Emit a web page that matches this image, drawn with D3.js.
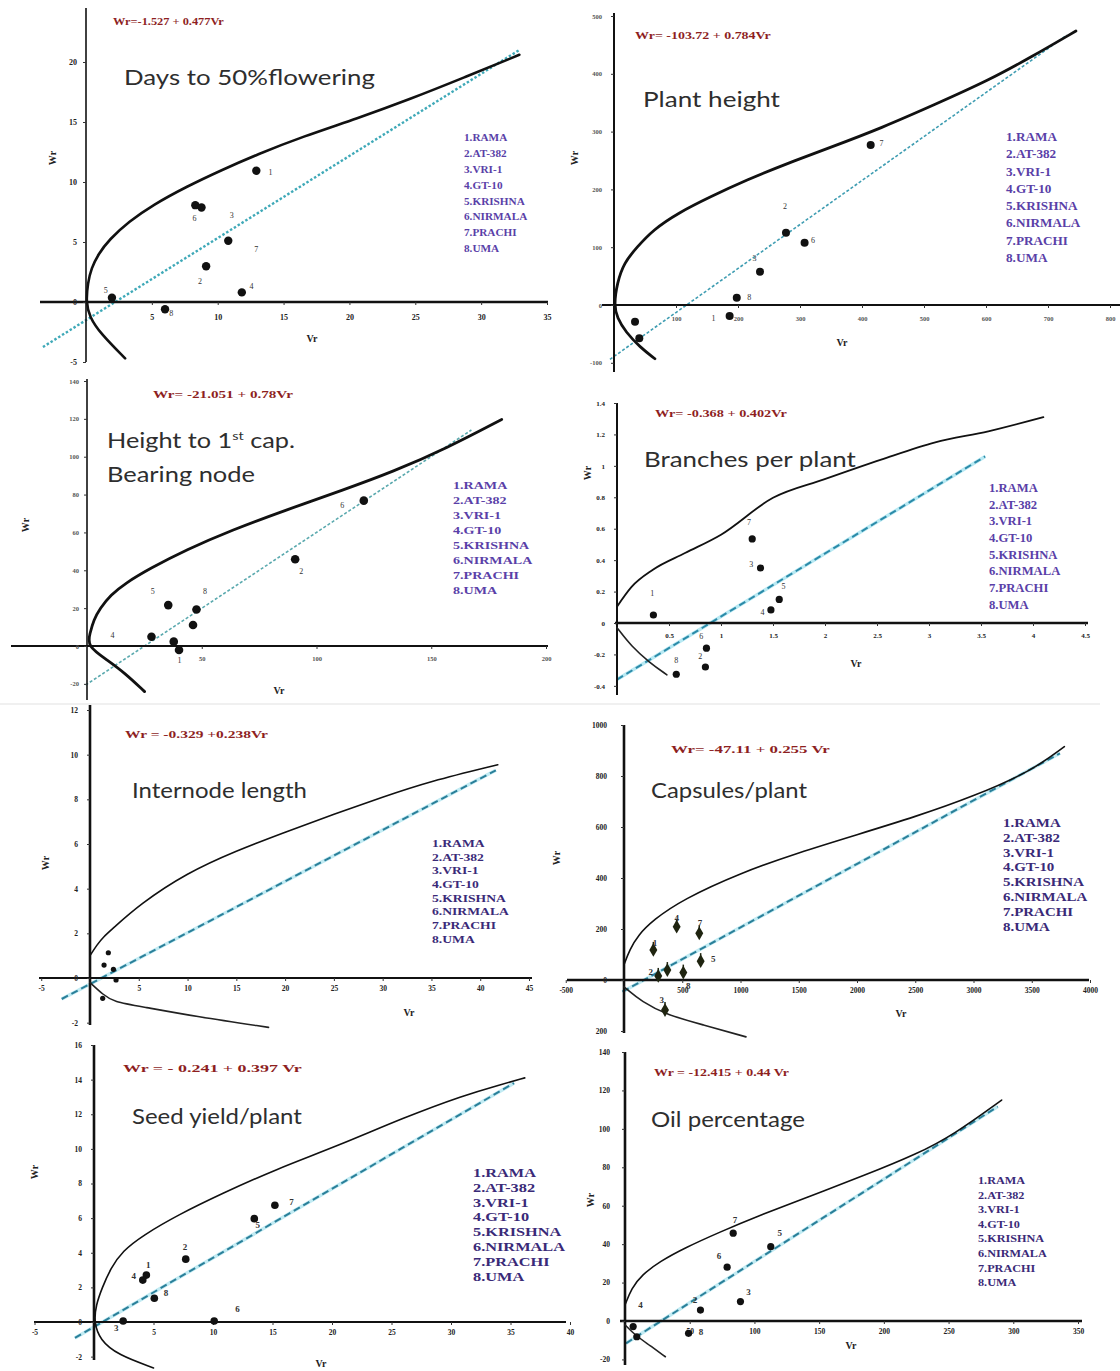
<!DOCTYPE html>
<html><head><meta charset="utf-8">
<script src="https://cdn.jsdelivr.net/npm/d3@7"></script>
<style>body{margin:0;background:#fff}svg{display:block}</style>
</head><body>
<svg id="c" width="1120" height="1371"></svg>
<script>
// ---------- shared text ----------
const legendItems = ["1.RAMA","2.AT-382","3.VRI-1","4.GT-10","5.KRISHNA","6.NIRMALA","7.PRACHI","8.UMA"];
const titles = [["Days to 50%flowering"],["Plant height"],["Height to 1st cap.","Bearing node"],["Branches per plant"],
  ["Internode length"],["Capsules/plant"],["Seed yield/plant"],["Oil percentage"]];
const equations = ["Wr=-1.527 + 0.477Vr","Wr= -103.72 + 0.784Vr","Wr= -21.051 + 0.78Vr","Wr= -0.368 + 0.402Vr",
  "Wr = -0.329 +0.238Vr","Wr= -47.11 + 0.255 Vr","Wr = - 0.241 + 0.397 Vr","Wr = -12.415 + 0.44 Vr"];

// ---------- panel 1: Days to 50% flowering ----------
const p1XTicks = [5,10,15,20,25,30,35];
const p1XLabels = ["5","10","15","20","25","30","35"];
const p1YTicks = [-5,0,5,10,15,20];
const p1YLabels = ["-5","0","5","10","15","20"];
// [Vr, Wr, label, labelVr, labelWr]
const p1Points = [[12.93,10.94,"1",14.0,10.8],[9.12,2.98,"2",8.65,1.7],[10.8,5.1,"3",11.07,7.2],[11.83,0.8,"4",12.56,1.3],
  [1.97,0.35,"5",1.5,0.98],[8.3,8.07,"6",8.23,6.95],[8.77,7.87,"7",12.93,4.37],[6.0,-0.6,"8",6.48,-0.97]];
const p1Upper = [[0,0],[0.14,1.6],[0.4,2.8],[0.94,4.0],[1.76,5.2],[3.25,6.7],[5.1,8.1],[7.6,9.6],[10.3,11.0],[13.0,12.3],
  [16.5,13.8],[20.6,15.3],[24.6,16.9],[28.7,18.7],[32.9,20.6]];
const p1Lower = [[0,0],[0.27,-1.25],[1.08,-2.6],[2.97,-4.7]];
const p1Reg = [[-3.27,-3.75],[32.9,21.0]];

// ---------- panel 2: Plant height ----------
const p2XTicks = [100,200,300,400,500,600,700,800];
const p2XLabels = ["100","200","300","400","500","600","700","800"];
const p2YTicks = [-100,0,100,200,300,400,500];
const p2YLabels = ["-100","0","100","200","300","400","500"];
const p2Points = [[33.9,-28.8,"",0,0],[40.8,-57.7,"",0,0],[186.5,-19.0,"1",160.6,-23],[198,12.7,"8",218,12.7],
  [235.5,57.7,"3",226.8,80.8],[277.4,125,"2",275.8,170],[307.4,107.8,"6",320.8,111],[414,276.8,"7",431.3,279.7]];
const p2Upper = [[0,0],[5,38],[16,73],[37,100],[63,130],[103,159],[155,187],[213,216],[282,246],[350,273],[431,306],
  [518,347],[605,389],[673,429],[745,474]];
const p2Lower = [[0,0],[5,-22],[19,-47],[42,-73],[66,-93]];
const p2Reg = [[-6.5,-94],[730.6,467]];

// ---------- panel 3: Height to 1st capsule bearing node ----------
const p3XTicks = [50,100,150,200];
const p3XLabels = ["50","100","150","200"];
const p3YTicks = [-20,0,20,40,60,80,100,120,140];
const p3YLabels = ["-20","0","20","40","60","80","100","120","140"];
const p3Points = [[120.6,76.8,"6",111.2,74.2],[90.7,45.8,"2",93.4,39.1],[35.4,21.6,"5",28.6,29],[47.7,19.3,"8",51.4,28.7],
  [46.2,11.1,"",0,0],[28.1,4.9,"4",11.1,5.3],[37.8,2.3,"",0,0],[40.1,-2.1,"1",40.3,-7.5]];
const p3Upper = [[0,0],[1.3,6.7],[2.9,13.7],[5.7,19.9],[10.3,26.9],[16.6,33.1],[27.5,41],[43,50.7],[63.2,61.3],
  [86.6,71.8],[111.5,82.4],[133.3,92.1],[156.6,104.4],[180.7,119.7]];
const p3Lower = [[0,0],[8.8,-7.4],[16.6,-14.4],[25.1,-24.1]];
const p3Reg = [[-0.6,-20.6],[167.5,114.1]];

// ---------- panel 4: Branches per plant ----------
const p4XTicks = [0.5,1,1.5,2,2.5,3,3.5,4,4.5];
const p4XLabels = ["0.5","1","1.5","2","2.5","3","3.5","4","4.5"];
const p4YTicks = [-0.4,-0.2,0,0.2,0.4,0.6,0.8,1,1.2,1.4];
const p4YLabels = ["-0.4","-0.2","0","0.2","0.4","0.6","0.8","1","1.2","1.4"];
const p4Points = [[0.35,0.051,"1",0.34,0.19],[1.3,0.535,"7",1.27,0.64],[1.38,0.35,"3",1.29,0.37],[1.56,0.15,"5",1.6,0.23],
  [1.48,0.083,"4",1.4,0.07],[0.86,-0.16,"6",0.81,-0.083],[0.85,-0.28,"2",0.8,-0.215],[0.57,-0.326,"8",0.57,-0.236]];
const p4Upper = [[0,0.104],[0.14,0.23],[0.345,0.339],[0.654,0.445],[1.0,0.562],[1.5,0.797],[1.99,0.914],[2.54,1.04],
  [3.06,1.15],[3.57,1.22],[4.1,1.31]];
const p4Lower = [[0,-0.03],[0.14,-0.15],[0.31,-0.25],[0.48,-0.33]];
const p4Reg = [[0,-0.36],[3.54,1.06]];

// ---------- panel 5: Internode length ----------
const p5XTicks = [-5,5,10,15,20,25,30,35,40,45];
const p5XLabels = ["-5","5","10","15","20","25","30","35","40","45"];
const p5YTicks = [-2,0,2,4,6,8,10,12];
const p5YLabels = ["-2","0","2","4","6","8","10","12"];
const p5Points = [[1.88,1.13,"",0,0],[1.44,0.58,"",0,0],[2.4,0.39,"",0,0],[2.67,-0.09,"",0,0],[1.3,-0.91,"",0,0]];
const p5Upper = [[0,1.0],[0.7,1.48],[1.4,1.85],[2.3,2.2],[5.1,3.3],[9.9,4.7],[15,5.7],[20.1,6.55],[25.1,7.35],[30,8.1],
  [34.8,8.8],[41.8,9.55]];
const p5Lower = [[0,-0.2],[1.38,-0.76],[2.4,-1.06],[5.4,-1.29],[10.9,-1.73],[18.3,-2.21]];
const p5Reg = [[-2.9,-0.94],[41.6,9.3]];

// ---------- panel 6: Capsules/plant ----------
const p6XTicks = [-500,500,1000,1500,2000,2500,3000,3500,4000];
const p6XLabels = ["-500","500","1000","1500","2000","2500","3000","3500","4000"];
const p6YTicks = [-200,0,200,400,600,800,1000];
const p6YLabels = ["200","0","200","400","600","800","1000"];
const p6Points = [[452,209,"4",452,243],[646,183,"7",652,222],[252,118,"1",266,146],[658,74,"5",767,81],
  [294,16,"2",229,33],[372,39,"",0,0],[509,29,"8",552,-23],[352,-118,"3",323,-78]];
const p6Upper = [[0,60],[50,120],[120,175],[250,235],[500,315],[1000,420],[1500,500],[2000,570],[2500,640],[3000,720],
  [3500,820],[3780,915]];
const p6Lower = [[0,-27],[155,-86],[370,-137],[680,-176],[1047,-223]];
const p6Reg = [[-13,-46],[3742,889]];

// ---------- panel 7: Seed yield/plant ----------
const p7XTicks = [-5,5,10,15,20,25,30,35,40];
const p7XLabels = ["-5","5","10","15","20","25","30","35","40"];
const p7YTicks = [-2,0,2,4,6,8,10,12,14,16];
const p7YLabels = ["-2","0","2","4","6","8","10","12","14","16"];
const p7Points = [[4.4,2.71,"1",4.55,3.28],[7.71,3.63,"2",7.65,4.34],[2.45,0.06,"3",1.86,-0.37],[4.1,2.42,"4",3.35,2.67],
  [13.47,5.97,"5",13.75,5.6],[10.1,0.06,"6",12.06,0.75],[15.2,6.74,"7",16.6,6.94],[5.07,1.37,"8",6.06,1.69]];
const p7Upper = [[0,0],[0.17,0.98],[0.67,1.96],[1.4,3.1],[2.4,4.1],[4.1,5.0],[7.1,6.2],[10.7,7.4],[15.2,8.8],
  [20.6,10.2],[26,11.8],[31.1,13.1],[34.1,13.7],[36.2,14.1]];
const p7Lower = [[0,0],[0.5,-1.04],[2,-1.9],[5,-2.65]];
const p7Reg = [[-1.6,-0.92],[35.3,13.8]];

// ---------- panel 8: Oil percentage ----------
const p8XTicks = [50,100,150,200,250,300,350];
const p8XLabels = ["50","100","150","200","250","300","350"];
const p8YTicks = [-20,0,20,40,60,80,100,120,140];
const p8YLabels = ["-20","0","20","40","60","80","100","120","140"];
const p8Points = [[83.6,45.7,"7",85,52.6],[112.6,38.7,"5",119.5,45.7],[78.9,28,"6",72.6,34],[89.2,10.1,"3",95.5,15.3],
  [58.3,5.7,"2",54.1,10.9],[49.1,-6.4,"8",58.7,-5.6],[6.3,-2.9,"",0,0],[9.1,-8.2,"4",11.9,8.3]];
const p8Upper = [[0,8.3],[5,17],[13,24],[27,31],[46,38],[74,46.5],[101.5,54.3],[143,65],[184,75.5],[226,87],
  [254,97],[291,115]];
const p8Lower = [[0,-2],[7.7,-7.3],[18.8,-12.5],[31.2,-18.6]];
const p8Reg = [[0.8,-11.6],[288,111.6]];

// ---------- layout (pixels / styles) ----------
const panels = [
 {xd:[0,35],xr:[86,547],yd:[0,20],yr:[302,62],xExt:[40,548],yExt:[8,362],xw:2.5,yw:1.6,
  xt:p1XTicks,xl:p1XLabels,yt:p1YTicks,yl:p1YLabels,xpad:9,ypad:6,tf:8,pts:p1Points,up:p1Upper,lo:p1Lower,
  title:[{x:124,y:85,w:251}],eq:{x:113,y:25,w:111},leg:{x:464,y:141,dy:15.9,fs:11,sx:1.02,c:"#5a3fa8"},
  wr:[52,158],vr:[312,338],cw:2.6,lw:2.2,r:4.2,reg:p1Reg,regStyle:{c:"#3fa9b8",w:2.4,d:"2.5,2",halo:null}},
 {xd:[0,800],xr:[614,1110],yd:[0,500],yr:[305,16],xExt:[602,1120],yExt:[13,372],xw:2,yw:2,
  xt:p2XTicks,xl:p2XLabels,yt:p2YTicks,yl:p2YLabels,xpad:8,ypad:9,tf:6.5,pts:p2Points,up:p2Upper,lo:p2Lower,
  title:[{x:643,y:107,w:137}],eq:{x:635,y:39,w:136},leg:{x:1006,y:141,dy:17.3,fs:12,sx:1.1,c:"#5a3fa8"},
  wr:[574,158],vr:[842,342],cw:2.8,lw:2,r:4,reg:p2Reg,regStyle:{c:"#3f9db2",w:1.6,d:"3,2",halo:null}},
 {xd:[0,200],xr:[87,546],yd:[0,140],yr:[646,381],xExt:[11,548],yExt:[379,700],xw:2,yw:1.6,
  xt:p3XTicks,xl:p3XLabels,yt:p3YTicks,yl:p3YLabels,xpad:7,ypad:5,tf:6.5,pts:p3Points,up:p3Upper,lo:p3Lower,
  title:[{x:107,y:448,w:188},{x:107,y:482,w:148}],eq:{x:153,y:398,w:140},leg:{x:453,y:489,dy:15,fs:11,sx:1.28,c:"#5a3fa8"},
  wr:[25,525],vr:[279,690],cw:2.8,lw:2.4,r:4.3,reg:p3Reg,regStyle:{c:"#5aa9ae",w:1.6,d:"3,2",halo:null}},
 {xd:[0,4.5],xr:[617,1085],yd:[0,1.4],yr:[623,403],xExt:[615,1088],yExt:[403,695],xw:2.5,yw:2,
  xt:p4XTicks,xl:p4XLabels,yt:p4YTicks,yl:p4YLabels,xpad:7,ypad:9,tf:7,pts:p4Points,up:p4Upper,lo:p4Lower,
  title:[{x:644,y:467,w:212}],eq:{x:655,y:417,w:132},leg:{x:989,y:492,dy:16.7,fs:11.5,sx:1.1,c:"#5a3fa8"},
  wr:[587,473],vr:[856,663],cw:1.8,lw:1.6,r:3.6,reg:p4Reg,linear:true,regStyle:{c:"#2b8aa8",w:2,d:"7,4",halo:"#b8e9f3"}},
 {xd:[0,45],xr:[90,529],yd:[0,12],yr:[978,710],xExt:[39,532],yExt:[705,1025],xw:2,yw:2.6,
  xt:p5XTicks,xl:p5XLabels,yt:p5YTicks,yl:p5YLabels,xpad:5,ypad:9,tf:7.5,pts:p5Points,up:p5Upper,lo:p5Lower,
  title:[{x:132,y:798,w:175}],eq:{x:125,y:738,w:143},leg:{x:432,y:847,dy:13.7,fs:11,sx:1.24,c:"#3a2a78"},
  wr:[45,863],vr:[409,1012],cw:1.6,lw:1.6,r:2.6,reg:p5Reg,regStyle:{c:"#2a7f99",w:2,d:"7,4",halo:"#c2ebf3"}},
 {xd:[0,4000],xr:[624,1090],yd:[0,1000],yr:[980,725],xExt:[567,1089],yExt:[725,1033],xw:2.5,yw:2.6,
  xt:p6XTicks,xl:p6XLabels,yt:p6YTicks,yl:p6YLabels,xpad:5,ypad:14,tf:7.5,pts:p6Points,up:p6Upper,lo:p6Lower,
  title:[{x:651,y:798,w:156}],eq:{x:671,y:753,w:159},leg:{x:1003,y:827,dy:14.8,fs:11.5,sx:1.3,c:"#3a2a78"},
  wr:[556,858],vr:[901,1013],cw:1.6,lw:1.6,r:4,diamond:true,reg:p6Reg,regStyle:{c:"#2a7f99",w:2,d:"7,4",halo:"#c2ebf3"}},
 {xd:[0,40],xr:[94,570],yd:[0,16],yr:[1322,1045],xExt:[34,566],yExt:[1045,1360],xw:2,yw:2.6,
  xt:p7XTicks,xl:p7XLabels,yt:p7YTicks,yl:p7YLabels,xpad:5,ypad:9,tf:7.5,pts:p7Points,up:p7Upper,lo:p7Lower,
  title:[{x:132,y:1124,w:170}],eq:{x:123,y:1072,w:179},leg:{x:473,y:1177,dy:14.8,fs:12,sx:1.36,c:"#3a2a78"},
  wr:[34,1172],vr:[321,1363],cw:1.6,lw:1.6,r:3.8,reg:p7Reg,regStyle:{c:"#2a7f99",w:2,d:"7,4",halo:"#c2ebf3"}},
 {xd:[0,350],xr:[625,1078],yd:[0,140],yr:[1321,1052],xExt:[620,1082],yExt:[1052,1365],xw:2.5,yw:2.6,
  xt:p8XTicks,xl:p8XLabels,yt:p8YTicks,yl:p8YLabels,xpad:5,ypad:12,tf:7.5,pts:p8Points,up:p8Upper,lo:p8Lower,
  title:[{x:651,y:1127,w:154}],eq:{x:654,y:1076,w:135},leg:{x:978,y:1184,dy:14.6,fs:11,sx:1.11,c:"#3a2a78"},
  wr:[590,1200],vr:[851,1345],cw:1.6,lw:1.6,r:3.6,reg:p8Reg,regStyle:{c:"#2a7f99",w:2,d:"7,4",halo:"#c2ebf3"}}
];

const svg = d3.select("#c");
const SERIF = "'Liberation Serif','DejaVu Serif',serif";
const SANS = "Lato,'Open Sans',sans-serif";

// faint separator between rows
svg.append("line").attr("x1",0).attr("x2",1100).attr("y1",704).attr("y2",704)
  .attr("stroke","#e2e2e2").attr("stroke-width",1.2);

function fit(sel, x, y, w){
  const len = sel.node().getComputedTextLength() || w;
  sel.attr("transform", `translate(${x},${y}) scale(${w/len},1)`);
}

panels.forEach((p, idx) => {
  const g = svg.append("g");
  const x = d3.scaleLinear().domain(p.xd).range(p.xr);
  const y = d3.scaleLinear().domain(p.yd).range(p.yr);
  const x0 = x(0), y0 = y(0);

  // regression line
  if (p.regStyle.halo) {
    g.append("line").attr("x1",x(p.reg[0][0])).attr("y1",y(p.reg[0][1])).attr("x2",x(p.reg[1][0])).attr("y2",y(p.reg[1][1]))
      .attr("stroke",p.regStyle.halo).attr("stroke-width",3.5);
  }
  g.append("line").attr("x1",x(p.reg[0][0])).attr("y1",y(p.reg[0][1])).attr("x2",x(p.reg[1][0])).attr("y2",y(p.reg[1][1]))
    .attr("stroke",p.regStyle.c).attr("stroke-width",p.regStyle.w).attr("stroke-dasharray",p.regStyle.d);

  // axes lines
  g.append("line").attr("x1",p.xExt[0]).attr("x2",p.xExt[1]).attr("y1",y0).attr("y2",y0)
    .attr("stroke","#111").attr("stroke-width",p.xw);
  g.append("line").attr("x1",x0).attr("x2",x0).attr("y1",p.yExt[0]).attr("y2",p.yExt[1])
    .attr("stroke","#111").attr("stroke-width",p.yw);

  const xlab = new Map(p.xt.map((t,i)=>[t,p.xl[i]]));
  const ylab = new Map(p.yt.map((t,i)=>[t,p.yl[i]]));
  const gx = g.append("g").attr("transform",`translate(0,${y0})`)
    .call(d3.axisBottom(x).tickValues(p.xt).tickFormat(d=>xlab.get(d)).tickSize(3).tickPadding(p.xpad));
  const gy = g.append("g").attr("transform",`translate(${x0},0)`)
    .call(d3.axisLeft(y).tickValues(p.yt).tickFormat(d=>ylab.get(d)).tickSize(3).tickPadding(p.ypad));
  [gx,gy].forEach(a=>{
    a.select(".domain").remove();
    a.selectAll("line").attr("stroke","#333").attr("stroke-width",1);
    a.selectAll("text").attr("font-family",SERIF).attr("font-weight","bold")
      .attr("font-size",p.tf).attr("fill", idx===1||idx===2 ? "#555" : "#222");
  });

  // limiting parabola
  const basis = d3.line().x(d=>x(d[0])).y(d=>y(d[1])).curve(d3.curveBasis);
  const joined = p.lo[0][0]===p.up[0][0] && p.lo[0][1]===p.up[0][1];
  if (joined) {
    const full = p.lo.slice().reverse().concat(p.up.slice(1));
    g.append("path").attr("d",basis(full)).attr("fill","none").attr("stroke","#111")
      .attr("stroke-width",p.cw).attr("stroke-linecap","round").attr("stroke-linejoin","round");
  } else {
    const upLine = p.linear ? d3.line().x(d=>x(d[0])).y(d=>y(d[1])).curve(d3.curveMonotoneX) : basis;
    g.append("path").attr("d",upLine(p.up)).attr("fill","none").attr("stroke","#111")
      .attr("stroke-width",p.cw).attr("stroke-linecap","round");
    g.append("path").attr("d",basis(p.lo)).attr("fill","none").attr("stroke","#222")
      .attr("stroke-width",p.lw).attr("stroke-linecap","round");
  }

  // points
  if (p.diamond) {
    g.selectAll(".pt").data(p.pts).enter().append("path")
      .attr("transform",d=>`translate(${x(d[0])},${y(d[1])})`)
      .attr("d",d3.symbol(d3.symbolDiamond,55)).attr("fill","#1f2410");
    g.selectAll(".stem").data(p.pts).enter().append("line")
      .attr("x1",d=>x(d[0])).attr("x2",d=>x(d[0])).attr("y1",d=>y(d[1])-8).attr("y2",d=>y(d[1]))
      .attr("stroke","#1f2410").attr("stroke-width",1.5);
  } else {
    g.selectAll(".pt").data(p.pts).enter().append("circle")
      .attr("cx",d=>x(d[0])).attr("cy",d=>y(d[1])).attr("r",p.r).attr("fill","#111");
  }
  g.selectAll(".plab").data(p.pts.filter(d=>d[2]!=="")).enter().append("text")
    .attr("x",d=>x(d[3])).attr("y",d=>y(d[4])).attr("text-anchor","middle").attr("dominant-baseline","central")
    .attr("font-family",SERIF).attr("font-size",idx>=4?9:8).attr("font-weight",idx>=4?"bold":"normal")
    .attr("fill","#333").text(d=>d[2]);

  // title
  titles[idx].forEach((t,i)=>{
    const tt = g.append("text").attr("font-family",SANS).attr("font-size",21).attr("fill","#2e2e2e");
    if (t.indexOf("1st")>=0) {
      tt.append("tspan").text("Height to 1");
      tt.append("tspan").text("st").attr("font-size",12).attr("dy",-8);
      tt.append("tspan").text(" cap.").attr("dy",8);
    } else tt.text(t);
    fit(tt, p.title[i].x, p.title[i].y, p.title[i].w);
  });

  // equation
  const eq = g.append("text").attr("font-family",SERIF).attr("font-weight","bold").attr("font-size",10)
    .attr("fill","#8e1f1f").text(equations[idx]);
  fit(eq, p.eq.x, p.eq.y, p.eq.w);

  // legend
  const lg = g.append("g").attr("transform",`translate(${p.leg.x},${p.leg.y}) scale(${p.leg.sx},1)`);
  lg.selectAll("text").data(legendItems).enter().append("text")
    .attr("x",0).attr("y",(d,i)=>i*p.leg.dy).attr("font-family",SERIF).attr("font-weight","bold")
    .attr("font-size",p.leg.fs).attr("fill",p.leg.c).text(d=>d);

  // axis titles
  g.append("text").attr("transform",`translate(${p.wr[0]},${p.wr[1]}) rotate(-90)`).attr("text-anchor","middle")
    .attr("dominant-baseline","central").attr("font-family",SERIF).attr("font-weight","bold").attr("font-size",10)
    .attr("fill","#222").text("Wr");
  g.append("text").attr("x",p.vr[0]).attr("y",p.vr[1]).attr("text-anchor","middle").attr("dominant-baseline","central")
    .attr("font-family",SERIF).attr("font-weight","bold").attr("font-size",10).attr("fill","#222").text("Vr");
});
</script>
</body></html>
